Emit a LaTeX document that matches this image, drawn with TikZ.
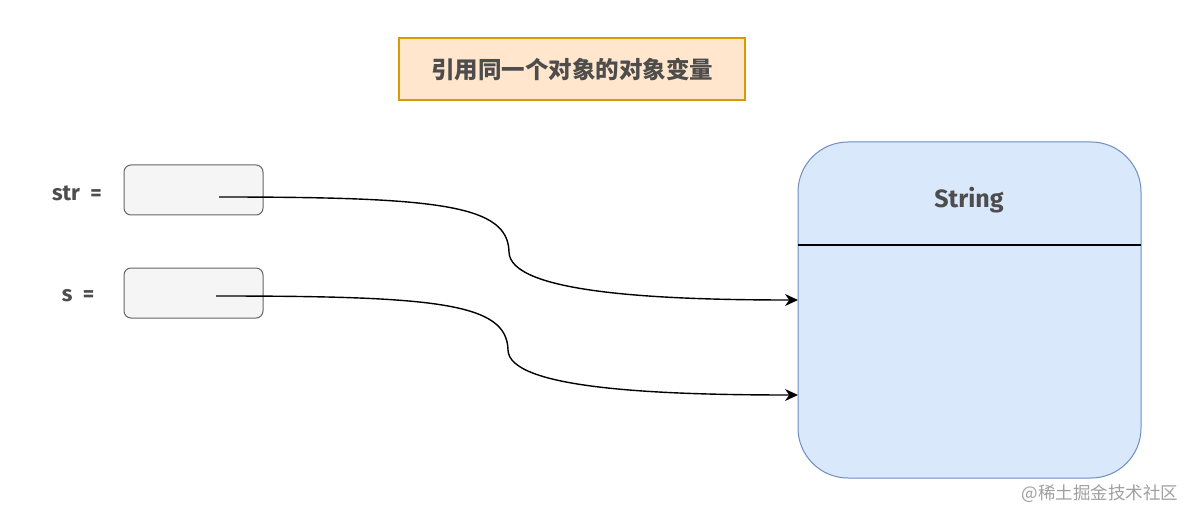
\documentclass[tikz,border=0pt]{standalone}
\usepackage{fontspec}
\setmainfont{Fira Sans}
\newfontfamily\cjk{Noto Sans CJK SC}
\usetikzlibrary{arrows.meta}
\definecolor{titlefill}{HTML}{FFE6CC}
\definecolor{titledraw}{HTML}{D79B00}
\definecolor{txt}{HTML}{4D4D4D}
\definecolor{varfill}{HTML}{F5F5F5}
\definecolor{vardraw}{HTML}{666666}
\definecolor{objfill}{HTML}{DAE8FC}
\definecolor{objdraw}{HTML}{6C8EBF}
\definecolor{wm}{HTML}{A0A0A0}
\tikzset{
  titlebox/.style={draw=titledraw, fill=titlefill, line width=1.2pt, minimum width=346pt, minimum height=62pt, inner sep=0pt, text=txt, font=\cjk\bfseries\fontsize{23.5}{28}\selectfont},
  varbox/.style={draw=vardraw, fill=varfill, line width=1pt, rounded corners=7pt, minimum width=139pt, minimum height=50pt, inner sep=0pt},
  varlabel/.style={text=txt, font=\bfseries\fontsize{22}{26}\selectfont, inner sep=0pt},
  objbox/.style={draw=objdraw, fill=objfill, line width=1pt, rounded corners=50pt, minimum width=343pt, minimum height=336pt, inner sep=0pt},
  ref/.style={draw=black, line width=1.4pt, -{Stealth[length=13pt,width=12pt]}},
}
\begin{document}
\begin{tikzpicture}[x=1pt,y=-1pt]
\useasboundingbox[fill=white] (0,0) rectangle (1198,521);
\node[titlebox] (title) at (572,69) {引用同一个对象的对象变量};
\node[varbox] (v1) at (193.5,190) {};
\node[varbox] (v2) at (193.5,293) {};
\node[varlabel, anchor=base] (l1) at (77,201) {str\ \ =};
\node[varlabel, anchor=base] (l2) at (78,301) {s\ \ =};
\node[objbox] (obj) at (969.5,310) {};
\coordinate (divl) at (798,245);
\coordinate (divr) at (1141,245);
\draw[line width=1.3pt] (divl) -- (divr);
\node[text=txt, font=\bfseries\fontsize{25}{30}\selectfont] (objname) at (969,200) {String};
\coordinate (s1) at (219,197);
\coordinate (m1) at (509,252);
\coordinate (t1) at (798,300);
\coordinate (s2) at (216,296);
\coordinate (m2) at (508,350);
\coordinate (t2) at (798,395);
\draw[ref] (s1) .. controls (440,197) and (508,205) .. (m1) .. controls (510,292) and (650,300) .. (t1);
\draw[ref] (s2) .. controls (437,296) and (507,303) .. (m2) .. controls (509,388) and (650,395) .. (t2);
\node[text=wm, font=\cjk\fontsize{17.5}{21}\selectfont, anchor=east] (wmark) at (1182,494) {@稀土掘金技术社区};
\end{tikzpicture}
\end{document}
